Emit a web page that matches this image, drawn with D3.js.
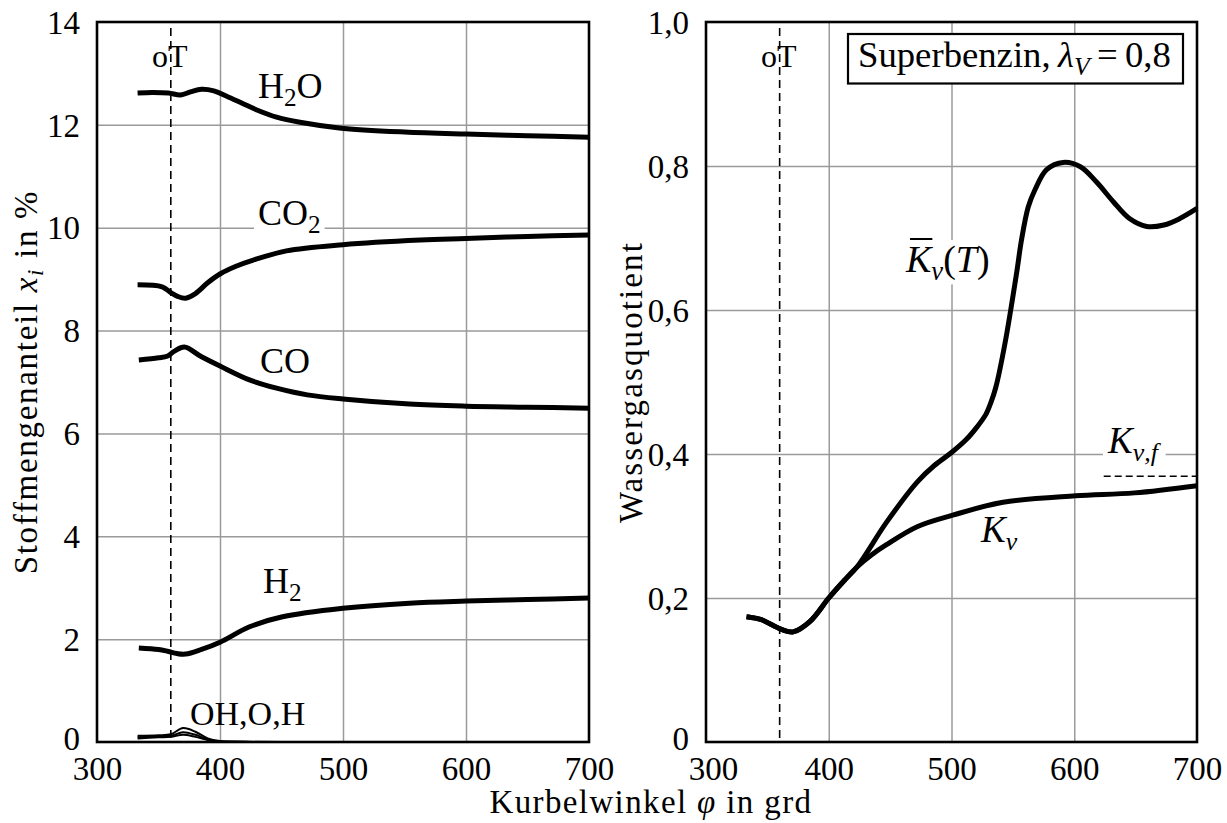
<!DOCTYPE html>
<html><head><meta charset="utf-8">
<script src="https://cdn.jsdelivr.net/npm/d3@7"></script>
<style>
html,body{margin:0;padding:0;background:#fff;}
svg text{font-family:"Liberation Serif","DejaVu Serif",serif;fill:#000;}
</style></head>
<body><svg id="c" width="1227" height="823"></svg>
<script>
// ---------- data ----------
const xTicks = [300, 400, 500, 600, 700];
const leftYTicks = [0, 2, 4, 6, 8, 10, 12, 14];
const rightYTicks = [0, 0.2, 0.4, 0.6, 0.8, 1.0];
const oT = 360;

const phiH2O = [333,345,358,368,376,385,395,405,418,430,446,465,497,550,600,650,700];
const H2O    = [12.62,12.63,12.62,12.58,12.64,12.69,12.66,12.56,12.42,12.29,12.15,12.05,11.94,11.86,11.82,11.79,11.76];

const phiCO2 = [333,353,360,366,372,380,390,400,413,427,454,500,563,600,650,700];
const CO2    = [8.89,8.85,8.74,8.66,8.63,8.72,8.93,9.10,9.25,9.37,9.55,9.67,9.76,9.79,9.83,9.86];

const phiCO = [334,350,357,363,371,385,400,424,446,471,500,554,600,650,700];
const CO    = [7.43,7.47,7.50,7.60,7.68,7.49,7.31,7.04,6.88,6.75,6.67,6.57,6.53,6.51,6.49];

const phiH2 = [334,350,358,365,372,385,400,424,450,500,554,600,650,700];
const H2    = [1.83,1.80,1.76,1.72,1.71,1.80,1.94,2.24,2.43,2.60,2.70,2.74,2.77,2.80];

const phiRad = [333,350,360,370,380,390,400,420,450];
const OH     = [0.12,0.13,0.15,0.27,0.20,0.07,0.02,0.005,0];
const O      = [0.09,0.11,0.12,0.19,0.14,0.05,0.01,0.003,0];
const H      = [0.07,0.09,0.10,0.14,0.10,0.04,0.01,0.002,0];

const phiKv = [333,345,354,362,371,385,400,413,423,435,447,472,501,542,601,649,700];
const Kv    = [.174,.170,.1625,.156,.153,.168,.200,.225,.243,.260,.274,.299,.315,.333,.342,.346,.356];

const phiKT = [333,345,354,362,371,385,400,413,423,447,472,486,500,512,521,528,532,536,543.5,553,557,562.5,568,577.5,591,605,618,632,645,659,673,686,700];
const KT    = [.174,.170,.1625,.156,.153,.168,.200,.225,.243,.305,.361,.384,.402,.420,.438,.455,.471,.492,.553,.651,.697,.743,.767,.795,.805,.799,.778,.750,.727,.716,.718,.727,.741];

const Kvf = 0.369, phiKvf = [624, 700];

// ---------- layout ----------
const svg = d3.select("#c");
const yTop = 22, yBot = 742;
const xL = d3.scaleLinear().domain([300,700]).range([97,589]);
const yL = d3.scaleLinear().domain([0,14]).range([yBot, yTop]);
const xR = d3.scaleLinear().domain([300,700]).range([706,1197]);
const yR = d3.scaleLinear().domain([0,1]).range([yBot, yTop]);
const TICKFS = 33;

function comma(v){ return v===0 ? "0" : v.toFixed(1).replace(".", ","); }

function panel(x, y, yTicks, fmt, firstDx){
  const g = svg.append("g");
  g.append("g").attr("transform",`translate(0,${yBot})`)
    .call(d3.axisBottom(x).tickValues(xTicks.slice(1,-1)).tickSize(-(yBot-yTop)).tickFormat(""))
    .call(s=>{s.select(".domain").remove(); s.selectAll("line").attr("stroke","#9a9a9a").attr("stroke-width",1.5);});
  g.append("g").attr("transform",`translate(${x.range()[0]},0)`)
    .call(d3.axisLeft(y).tickValues(yTicks.slice(1,-1)).tickSize(-(x.range()[1]-x.range()[0])).tickFormat(""))
    .call(s=>{s.select(".domain").remove(); s.selectAll("line").attr("stroke","#9a9a9a").attr("stroke-width",1.5);});
  const ax = g.append("g").attr("transform",`translate(0,${yBot})`)
    .call(d3.axisBottom(x).tickValues(xTicks).tickSize(0).tickPadding(14.6))
    .call(s=>{s.select(".domain").remove(); s.selectAll("text").attr("font-size",TICKFS).attr("font-family","Liberation Serif");});
  if(firstDx) ax.selectAll("text").filter((d,i)=>i===0).attr("dx",firstDx);
  g.append("g").attr("transform",`translate(${x.range()[0]},0)`)
    .call(d3.axisLeft(y).tickValues(yTicks).tickSize(0).tickPadding(17).tickFormat(fmt))
    .call(s=>{s.select(".domain").remove(); s.selectAll("text").attr("font-size",TICKFS).attr("font-family","Liberation Serif")
      .attr("dy",d=>d===0 ? "0.22em" : "0.34em");});
  g.append("line").attr("x1",x(oT)).attr("x2",x(oT)).attr("y1",28).attr("y2",yBot)
    .attr("stroke","#000").attr("stroke-width",1.6).attr("stroke-dasharray","8,5");
  g.append("text").attr("x",x(oT)-1).attr("y",67).attr("text-anchor","middle").attr("font-size",32).text("oT");
  return g;
}

const gL = panel(xL, yL, leftYTicks, d=>d, 0);
const gR = panel(xR, yR, rightYTicks, comma, 7);

const curve = d3.curveCatmullRom.alpha(0.5);
function drawLine(g, x, y, phis, vals, w){
  const data = phis.map((p,i)=>[p, vals[i]]);
  g.append("path").datum(data)
    .attr("d", d3.line().x(d=>x(d[0])).y(d=>y(d[1])).curve(curve))
    .attr("fill","none").attr("stroke","#000").attr("stroke-width",w)
    .attr("stroke-linecap","butt").attr("stroke-linejoin","round");
}

function label(g, xpx, ypx, parts, fs, bg){
  const t = g.append("text").attr("x",xpx).attr("y",ypx).attr("font-size",fs);
  parts.forEach(p=>{
    const ts = t.append("tspan").text(p.t);
    if(p.sub){ ts.attr("font-size",fs*0.7).attr("dy",fs*0.22); }
    if(p.unsub){ ts.attr("dy",-fs*0.22); }
    if(p.it) ts.attr("font-style","italic");
  });
  if(bg){
    const b = t.node().getBBox();
    g.insert("rect",()=>t.node()).attr("x",b.x-4).attr("y",b.y+2).attr("width",b.width+8).attr("height",b.height-4).attr("fill","#fff");
  }
  return t;
}

function fitWidth(t, target){
  const n = t.node();
  const w = n.getBBox().width;
  const len = n.textContent.length;
  t.attr("letter-spacing", ((target-w)/(len-1)).toFixed(2));
}
function fitFont(t, target){
  const n = t.node();
  const w = n.getBBox().width;
  const fs = +t.attr("font-size");
  const k = target / w;
  t.attr("font-size", fs*k);
  t.selectAll("tspan").each(function(){
    const s = d3.select(this);
    if(s.attr("font-size")) s.attr("font-size", +s.attr("font-size")*k);
    if(s.attr("dy")) s.attr("dy", +s.attr("dy")*k);
  });
}

const LFS = 36;
label(gL, 258, 225, [{t:"CO"},{t:"2",sub:true}], LFS, true);
drawLine(gL, xL, yL, phiH2O, H2O, 5);
drawLine(gL, xL, yL, phiCO2, CO2, 5);
drawLine(gL, xL, yL, phiCO, CO, 5);
drawLine(gL, xL, yL, phiH2, H2, 5);
drawLine(gL, xL, yL, phiRad, OH, 2);
drawLine(gL, xL, yL, phiRad, O, 2);
drawLine(gL, xL, yL, phiRad, H, 2);
label(gL, 258, 98, [{t:"H"},{t:"2",sub:true},{t:"O",unsub:true}], LFS, false);
label(gL, 260, 373, [{t:"CO"}], LFS, false);
label(gL, 263, 593, [{t:"H"},{t:"2",sub:true}], LFS, false);
label(gL, 190, 725, [{t:"OH,O,H"}], 34, false);

const kt = label(gR, 906, 272, [{t:"K",it:true},{t:"ν",it:true,sub:true},{t:"(",unsub:true},{t:"T",it:true},{t:")"}], 38, true);
(function(){
  const n = kt.node();
  const s = n.getStartPositionOfChar(0), e = n.getEndPositionOfChar(0);
  gR.append("line").attr("x1",s.x+4).attr("x2",e.x+1).attr("y1",239).attr("y2",239)
    .attr("stroke","#000").attr("stroke-width",2);
})();
label(gR, 1108, 453, [{t:"K",it:true},{t:"ν,f",it:true,sub:true}], 37, true);
drawLine(gR, xR, yR, phiKT, KT, 5);
drawLine(gR, xR, yR, phiKv, Kv, 5);
label(gR, 981, 542, [{t:"K",it:true},{t:"ν",it:true,sub:true}], 37, false);
gR.append("line").attr("x1",xR(phiKvf[0])).attr("x2",xR(phiKvf[1])).attr("y1",yR(Kvf)).attr("y2",yR(Kvf))
  .attr("stroke","#000").attr("stroke-width",1.6).attr("stroke-dasharray","7,4");

svg.append("rect").attr("x",848).attr("y",34).attr("width",335).attr("height",49.5)
  .attr("fill","#fff").attr("stroke","#000").attr("stroke-width",2.2);
const lg = label(svg, 858, 67, [{t:"Superbenzin,\u2009"},{t:"λ",it:true},{t:"V",it:true,sub:true},{t:"\u2009=\u2009",unsub:true},{t:"0,8"}], 31, false);
fitFont(lg, 313);

[[xL,yL],[xR,yR]].forEach(([x,y])=>{
  svg.append("rect").attr("x",x.range()[0]).attr("y",yTop)
    .attr("width",x.range()[1]-x.range()[0]).attr("height",yBot-yTop)
    .attr("fill","none").attr("stroke","#000").attr("stroke-width",2.6);
});

const xt = svg.append("text").attr("x",651).attr("y",813).attr("text-anchor","middle").attr("font-size",33);
xt.append("tspan").text("Kurbelwinkel ");
xt.append("tspan").attr("font-style","italic").text("φ");
xt.append("tspan").text(" in grd");
fitWidth(xt, 322);

const yt = svg.append("text").attr("transform","translate(37,382) rotate(-90)").attr("text-anchor","middle").attr("font-size",33);
yt.append("tspan").text("Stoffmengenanteil ");
yt.append("tspan").attr("font-style","italic").text("x");
yt.append("tspan").attr("font-style","italic").attr("font-size",23).attr("dy",6).text("i");
yt.append("tspan").attr("dy",-6).text(" in %");
fitWidth(yt, 383);

const yt2 = svg.append("text").attr("transform","translate(642,382) rotate(-90)").attr("text-anchor","middle").attr("font-size",33)
  .text("Wassergasquotient");
fitWidth(yt2, 280);
</script></body></html>
